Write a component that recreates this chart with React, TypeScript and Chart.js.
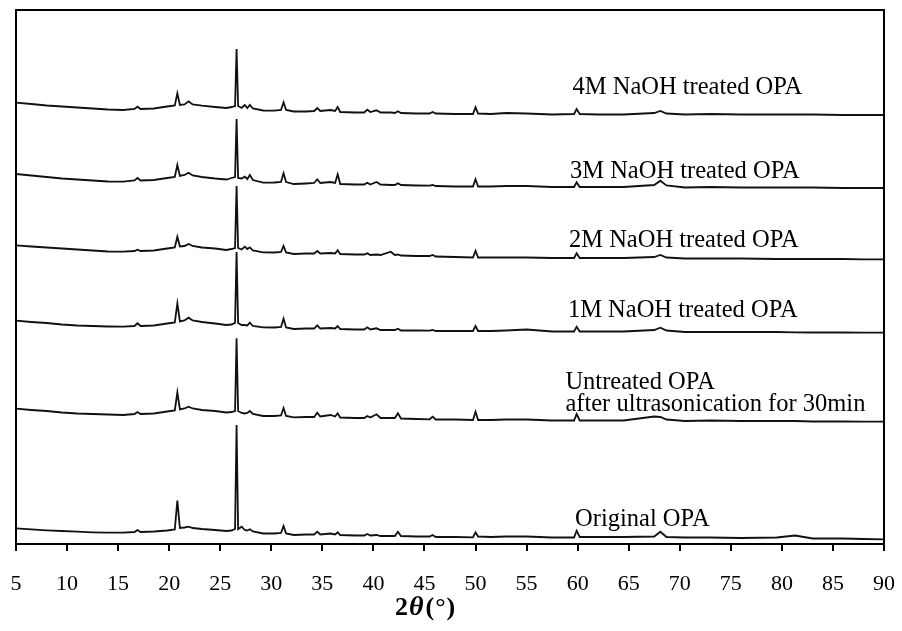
import { useEffect, useRef } from 'react';
import { Chart, registerables } from 'chart.js';

Chart.register(...registerables);

const SERIF = '"Liberation Serif", "Times New Roman", Times, serif';

// Diffraction angle grid (2θ, degrees) shared by all patterns
const twoTheta = [
  5, 6.5, 8, 9.5, 11, 12.5, 14, 15.5, 16.6, 16.9,
  17.2, 18.5, 19.8, 20.55, 20.8, 21.05, 21.5, 21.9, 22.3, 23.2,
  24.5, 25.6, 26.1, 26.45, 26.6, 26.75, 27.1, 27.4, 27.65, 27.9,
  28.2, 29.2, 30.3, 30.95, 31.2, 31.45, 32.2, 33.4, 34.2, 34.5,
  34.8, 35.8, 36.25, 36.5, 36.75, 38.2, 39.1, 39.4, 39.7, 40.3,
  40.7, 41.7, 42.1, 42.4, 42.7, 44.2, 45.5, 45.8, 46.1, 48,
  49.75, 50.0, 50.25, 51.5, 53, 55, 57.5, 59.65, 59.9, 60.2,
  62, 64.5, 67.5, 68.1, 68.7, 70.5, 73, 76, 79.5, 81.3,
  83, 86, 88, 90,
];

// Stacked intensities (a.u., offset per pattern)
const naoh4M = [
  441.3, 440, 438.5, 437.5, 436.5, 435.5, 434.5, 434, 435, 437.3,
  435, 435.5, 437.5, 438.5, 450.7, 439, 439.5, 442.7, 439.5, 438.3,
  437, 436, 437, 438, 495, 438, 436, 439, 436, 439,
  435.5, 433.5, 433.3, 434, 441.7, 434, 432.5, 432.5, 433, 436,
  433, 434, 433, 437, 432, 431.5, 431.5, 434.3, 432, 433.7,
  431.5, 431.5, 431, 432.7, 431, 430.5, 430.5, 432, 430.5, 430,
  430, 436.7, 430.5, 430, 431, 430.5, 429.5, 430, 435, 430,
  429.5, 429.5, 431, 433, 430.5, 429.5, 430, 429.5, 429.5, 429.5,
  429.5, 429, 429, 429,
];

const naoh3M = [
  370, 368.5, 367, 365.5, 364.5, 363.5, 362.5, 362.3, 363.5, 366,
  363.5, 364, 366, 367, 379, 368, 369, 371.3, 368.5, 367,
  365.5, 364.5, 366, 367, 425, 366, 365.5, 367.3, 365, 369,
  364, 361.3, 361.5, 362, 370.7, 362, 360, 360.5, 361, 364.7,
  361, 362, 361, 369.7, 360, 359.5, 359.5, 361.3, 359.5, 362,
  359.5, 359, 359, 360.7, 359, 358.5, 358.3, 359, 358, 357.5,
  357.5, 364.7, 357.5, 357.5, 358, 358, 357, 357, 361.7, 357,
  357, 357, 359, 363.3, 358.5, 356.5, 357, 356.5, 356.5, 356.5,
  356.5, 356, 356, 356,
];

const naoh2M = [
  298.7, 297.5, 296.5, 295.5, 294.5, 293.5, 292.5, 292.3, 293, 294.3,
  293, 293.5, 295.5, 296.5, 307.3, 297.5, 298, 300, 298, 296.5,
  295.5, 294, 295, 296, 358, 296, 294.5, 297.3, 295, 296.7,
  293.5, 291.7, 291.5, 292, 298, 291.5, 290, 290.5, 290.5, 293,
  290.5, 291, 290.5, 293.7, 290, 289.5, 289.5, 290.7, 289, 289.5,
  289, 292.3, 289, 289.5, 288.5, 288, 288, 289, 287.5, 287,
  286.5, 293.3, 286.5, 286.5, 286.5, 286.5, 286, 286, 290.7, 286,
  286, 286, 287, 289, 286.5, 285.5, 285.5, 285.5, 285, 285,
  285, 285, 284.7, 284.7,
];

const naoh1M = [
  223.3, 222, 221, 219.5, 218.5, 218, 217.5, 217.3, 218, 220.7,
  218, 218.5, 220.5, 221.5, 240.7, 222.5, 223.5, 226.3, 223.5, 222,
  220.5, 219, 219.5, 221, 292, 221, 219, 219, 218.5, 221.3,
  218, 216.7, 216.5, 217, 225.3, 216.5, 215, 215.5, 215.5, 218.7,
  215.5, 216, 215.5, 218, 215, 214.5, 214.5, 216.7, 214.5, 215.7,
  214, 214, 214, 215.3, 213.5, 213.5, 213.3, 214, 213, 213,
  213, 218, 213, 213, 213.5, 214.5, 212.5, 212.5, 217.3, 212.5,
  212.5, 212.5, 214, 216.3, 213.5, 212, 212, 212, 212, 211.7,
  211.5, 211.5, 211.3, 211.3,
];

const untreatedSonicated = [
  135.3, 134, 133, 131.5, 130.5, 130, 129.5, 129, 130, 132,
  130, 130.5, 132.5, 133.5, 151.7, 134.5, 135.5, 137.3, 135.5, 134,
  133, 131.5, 132, 133, 205.7, 133, 131, 130.5, 131, 133,
  130, 128, 128, 128.5, 136, 128, 126.7, 127, 127, 131.3,
  127.5, 129, 127.5, 130.7, 126.5, 126, 126, 128, 126.5, 129.7,
  126, 126, 126, 130.7, 125.5, 125, 124.7, 127.3, 124.5, 124.5,
  124, 132.3, 124, 124, 124.5, 124.5, 123.5, 123.5, 130, 123.5,
  123.5, 123.5, 127.5, 127, 124.5, 123, 123.5, 123, 123, 123,
  122.5, 122.5, 122.3, 122.3,
];

const originalOPA = [
  15.7, 14.7, 13.7, 13, 12.3, 11.7, 11.3, 11.3, 12, 14,
  12, 12.5, 13.5, 14.5, 43.3, 16, 16.5, 17.3, 16, 15,
  14, 13, 13.5, 15, 119, 15, 17.3, 14, 13.5, 14.7,
  12.5, 10.5, 10.5, 11, 18, 10.5, 9, 9.5, 9.5, 12.3,
  9.5, 10.5, 9.5, 11.7, 9, 8.5, 8.5, 10, 8.5, 9,
  8, 8, 8, 12.3, 8, 7.5, 7.5, 9, 7, 7,
  6.7, 11.7, 7.5, 7, 7.5, 7.5, 6.5, 6.5, 13.3, 7,
  7, 7, 7.5, 12.3, 7, 6.5, 6.5, 6, 6.5, 8.5,
  5.5, 5.5, 5, 4.7,
];

const seriesNames = [
  '4M NaOH treated OPA',
  '3M NaOH treated OPA',
  '2M NaOH treated OPA',
  '1M NaOH treated OPA',
  'Untreated OPA after ultrasonication for 30min',
  'Original OPA',
];

// Text labels next to each pattern
const labelTexts = [
  '4M NaOH treated OPA',
  '3M NaOH treated OPA',
  '2M NaOH treated OPA',
  '1M NaOH treated OPA',
  'Untreated OPA',
  'after ultrasonication for 30min',
  'Original OPA',
];
const labelAt2Theta = [59.5, 59.25, 59.15, 59.05, 58.8, 58.8, 59.75];
const labelAtLevel = [450, 366.3, 297.3, 227.3, 155, 133.3, 18.3];

const xTickStep = 5;

const framePlugin = {
  id: 'frameAndText',
  afterDraw(chart: any) {
    const { ctx, chartArea } = chart;
    const { left, top, right, bottom } = chartArea;
    const xs = chart.scales.x;
    const ys = chart.scales.y;
    ctx.save();
    // plot frame
    ctx.strokeStyle = '#000';
    ctx.lineWidth = 2;
    ctx.strokeRect(left, top, right - left, bottom - top);

    // pattern labels
    ctx.fillStyle = '#000';
    ctx.font = `24.5px ${SERIF}`;
    ctx.textAlign = 'left';
    ctx.textBaseline = 'alphabetic';
    labelTexts.forEach((t, i) => {
      ctx.fillText(t, xs.getPixelForValue(labelAt2Theta[i]), ys.getPixelForValue(labelAtLevel[i]));
    });

    // axis title: 2θ(°) with italic theta
    const cx = (left + right) / 2;
    let x = cx - 55;
    const y0 = bottom + 71;
    ctx.font = `bold 26px ${SERIF}`;
    ctx.fillText('2', x, y0);
    x += ctx.measureText('2').width + 1;
    ctx.font = `italic bold 28px ${SERIF}`;
    ctx.fillText('\u03B8', x, y0);
    x += ctx.measureText('\u03B8').width + 2;
    ctx.font = `bold 26px ${SERIF}`;
    ctx.fillText('(', x, y0);
    x += ctx.measureText('(').width + 1;
    ctx.fillText('\u00B0', x, y0);
    x += ctx.measureText('\u00B0').width + 1;
    ctx.fillText(')', x, y0);
    ctx.restore();
  },
};

export default function App() {
  const ref = useRef<HTMLCanvasElement>(null);

  useEffect(() => {
    const values = [naoh4M, naoh3M, naoh2M, naoh1M, untreatedSonicated, originalOPA];
    const chart = new Chart(ref.current as HTMLCanvasElement, {
      type: 'line',
      data: {
        datasets: values.map((v, i) => ({
          label: seriesNames[i],
          data: twoTheta.map((x, j) => ({ x, y: v[j] })),
          borderColor: '#111',
          borderWidth: 1.8,
          pointRadius: 0,
          tension: 0,
          fill: false,
        })),
      },
      options: {
        animation: false,
        responsive: true,
        maintainAspectRatio: false,
        events: [],
        layout: { padding: { left: 16, top: 10, right: 18, bottom: 0 } },
        plugins: { legend: { display: false }, tooltip: { enabled: false } },
        scales: {
          x: {
            type: 'linear',
            min: 5,
            max: 90,
            afterFit: (s: any) => {
              s.height = 87;
              s.paddingLeft = 0;
              s.paddingRight = 0;
            },
            ticks: {
              stepSize: xTickStep,
              autoSkip: false,
              maxRotation: 0,
              color: '#000',
              padding: 20,
              font: { family: SERIF, size: 22 },
            },
            grid: {
              drawOnChartArea: false,
              drawTicks: true,
              tickLength: 7,
              color: '#000',
              lineWidth: 2,
            },
            border: { display: false },
          },
          y: { display: false, min: 0, max: 534 },
        },
      },
      plugins: [framePlugin],
    });
    return () => chart.destroy();
  }, []);

  return (
    <div style={{ position: 'fixed', left: 0, top: 0, width: 902, height: 631, background: '#fff' }}>
      <canvas ref={ref} />
    </div>
  );
}
